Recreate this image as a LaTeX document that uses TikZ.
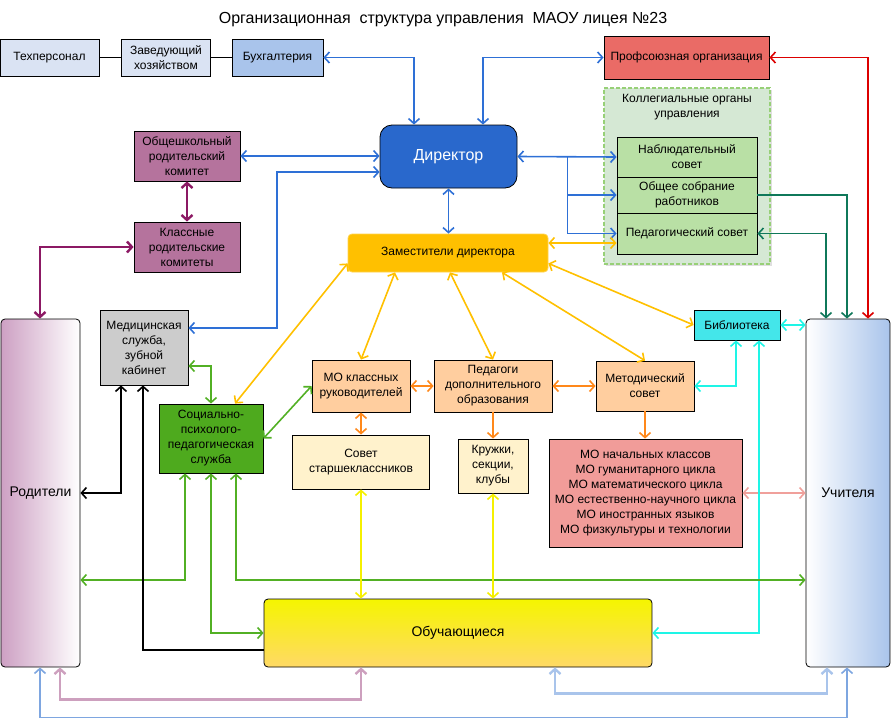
\documentclass[tikz,border=0pt]{standalone}
\usepackage{fontspec}
\setmainfont{Liberation Sans}
\usetikzlibrary{arrows.meta,shadows}

\definecolor{lblue}{RGB}{46,112,214}
\definecolor{dpurp}{RGB}{140,25,100}
\definecolor{gold}{RGB}{255,192,0}
\definecolor{lgreen}{RGB}{82,176,36}
\definecolor{orng}{RGB}{255,136,26}
\definecolor{cyn}{RGB}{30,245,230}
\definecolor{pinkl}{RGB}{240,160,155}
\definecolor{yel}{RGB}{245,240,0}
\definecolor{mauve}{RGB}{205,160,190}
\definecolor{sky}{RGB}{169,196,235}
\definecolor{midblue}{RGB}{126,166,224}
\definecolor{tealg}{RGB}{15,120,90}
\definecolor{redl}{RGB}{220,0,0}

\definecolor{techfill}{RGB}{218,227,243}
\definecolor{proffill}{RGB}{234,107,102}
\definecolor{kollfill}{RGB}{213,232,212}
\definecolor{kolldraw}{RGB}{151,208,119}
\definecolor{councilfill}{RGB}{185,224,165}
\definecolor{dirfill}{RGB}{41,104,204}
\definecolor{parfill}{RGB}{181,115,157}
\definecolor{medfill}{RGB}{204,204,204}
\definecolor{spfill}{RGB}{78,170,30}
\definecolor{peach}{RGB}{255,206,159}
\definecolor{cream}{RGB}{255,242,204}
\definecolor{mofill}{RGB}{241,156,153}
\definecolor{bibfill}{RGB}{68,230,234}
\definecolor{rodfill}{RGB}{205,160,195}
\definecolor{obutop}{RGB}{245,245,0}
\definecolor{obubot}{RGB}{255,217,102}

\begin{document}
\begin{tikzpicture}[x=1pt,y=-1pt,
    >={Straight Barb[length=5pt,width=11pt]},
    box/.style={draw=black, line width=0.8pt, align=center, inner sep=1pt,
        font=\fontsize{12}{15}\selectfont},
    big/.style={box, rounded corners=4pt, font=\fontsize{14}{17}\selectfont},
    con/.style={line width=1.6pt},
    thickcon/.style={line width=2.4pt}]
    \useasboundingbox (0,0) rectangle (891,720);

    % Title
    \node[font=\fontsize{16}{19}\selectfont] (title) at (443,20)
        {Организационная\ \ структура управления\ \ МАОУ лицея №23};

    % Top row
    \node[box, fill=techfill, minimum width=99, minimum height=37] (tech) at (49.5,57.5) {Техперсонал};
    \node[box, fill=techfill, minimum width=89, minimum height=37] (zav) at (166,57.5) {Заведующий\\хозяйством};
    \node[box, fill=sky, minimum width=91, minimum height=37] (buh) at (277.5,57.5) {Бухгалтерия};
    \node[box, fill=proffill, minimum width=165, minimum height=43] (prof) at (686.5,57.5) {Профсоюзная организация};

    % Collegial bodies
    \node[draw=kolldraw, dash pattern=on 4pt off 2pt, line width=1.2pt, fill=kollfill, minimum width=166, minimum height=176,
        drop shadow={opacity=0.25, shadow xshift=2pt, shadow yshift=-2pt}] (koll) at (687,176) {};
    \node[box, draw=none] (kolltitle) at (687,107.5) {Коллегиальные органы\\управления};
    \node[box, fill=councilfill, minimum width=140, minimum height=40] (nab) at (687,157) {Наблюдательный\\совет};
    \node[box, fill=councilfill, minimum width=140, minimum height=36] (obsh) at (687,195) {Общее собрание\\работников};
    \node[box, fill=councilfill, minimum width=140, minimum height=41] (ped) at (687,233.5) {Педагогический совет};

    % Director and deputies
    \node[box, fill=dirfill, rounded corners=12pt, minimum width=137, minimum height=63,
        text=white, font=\fontsize{16}{19}\selectfont] (dir) at (448.5,156.5) {Директор};
    \node[box, draw=gold!70!white, fill=gold, rounded corners=4pt, minimum width=200, minimum height=38] (zam) at (448,253) {Заместители директора};

    % Parents' committees
    \node[box, fill=parfill, minimum width=106, minimum height=50] (oshk) at (187,156) {Общешкольный\\родительский\\комитет};
    \node[box, fill=parfill, minimum width=106, minimum height=50] (klass) at (187,247) {Классные\\родительские\\комитеты};

    % Services
    \node[box, fill=medfill, minimum width=88, minimum height=75] (med) at (144,347.5) {Медицинская\\служба,\\зубной\\кабинет};
    \node[box, fill=spfill, minimum width=104, minimum height=69] (spps) at (211,438.5) {Социально-\\психолого-\\педагогическая\\служба};

    % Methodical units
    \node[box, fill=peach, minimum width=98, minimum height=52] (mokl) at (361,386) {МО классных\\руководителей};
    \node[box, fill=peach, minimum width=118, minimum height=52] (pdo) at (493,386) {Педагоги\\дополнительного\\образования};
    \node[box, fill=peach, minimum width=98, minimum height=50] (met) at (645,386) {Методический\\совет};
    \node[box, fill=cream, minimum width=137, minimum height=54] (sovet) at (361,462) {Совет\\старшеклассников};
    \node[box, fill=cream, minimum width=70, minimum height=54] (kruzh) at (493,466) {Кружки,\\секции,\\клубы};
    \node[box, fill=mofill, minimum width=193, minimum height=108] (mo) at (645.5,493)
        {МО начальных классов\\МО гуманитарного цикла\\МО математического цикла\\МО естественно-научного цикла\\МО иностранных языков\\МО физкультуры и технологии};
    \node[box, fill=bibfill, minimum width=86, minimum height=30] (bib) at (737,325) {Библиотека};

    % Participants
    \node[big, left color=rodfill, right color=white, minimum width=79, minimum height=348] (rod) at (40.5,493) {Родители};
    \node[big, left color=white, right color=sky, minimum width=84, minimum height=348] (uch) at (848,493) {Учителя};
    \node[big, top color=obutop, bottom color=obubot, minimum width=388, minimum height=68] (obu) at (458,633) {Обучающиеся};

    % Top row links
    \draw[con] (tech) -- (zav);
    \draw[con] (zav) -- (buh);
    \draw[con, lblue, <->] (buh.east) -| ([xshift=-34.5]dir.north);
    \draw[con, lblue, <->] ([xshift=34.5]dir.north) |- (prof.west);
    \draw[con, redl, <->] (prof.east) -| ([xshift=20]uch.north);

    % Director links
    \draw[con, lblue, <->] (dir.east) -- (nab.west);
    \draw[con, lblue, ->] ([xshift=50]dir.east) |- (obsh.west);
    \draw[con, lblue, ->] ([xshift=50]dir.east) |- (ped.west);
    \draw[con, lblue, <->] (dir.south) -- (dir.south |- zam.north);
    \draw[con, lblue, <->] (oshk.east) -- (dir.west |- oshk.east);
    \draw[con, lblue, <->] ([yshift=-15.5]dir.west) -| (277,328) -- ([yshift=19.5]med.east);

    % Parents
    \draw[thickcon, dpurp, <->] (oshk.south) -- (klass.north);
    \draw[thickcon, dpurp, <->] ([xshift=-0.5]rod.north) |- (klass.west);

    % Deputies
    \draw[con, gold, <->] ([yshift=10]zam.east) -- ([yshift=-9.5]ped.west);
    \draw[con, gold, <->] ([yshift=9]zam.south west) -- ([xshift=24]spps.north);
    \draw[con, gold, <->] ([xshift=-53]zam.south) -- (mokl.north);
    \draw[con, gold, <->] ([xshift=2]zam.south) -- (pdo.north);
    \draw[con, gold, <->] ([xshift=54]zam.south) -- (met.north);
    \draw[con, gold, <->] ([yshift=9]zam.south east) -- (bib.west);

    % Methodical links
    \draw[con, orng, <->] (mokl.east) -- (pdo.west);
    \draw[con, orng, <->] (pdo.east) -- (met.west);
    \draw[con, orng, <->] (mokl.south) -- (sovet.north);
    \draw[con, orng, ->] (pdo.south) -- (kruzh.north);
    \draw[con, orng, ->] (met.south) -- (met.south |- mo.north);
    \draw[con, pinkl, <->] (mo.east) -- (uch.west);

    % Library
    \draw[con, cyn, <->] (bib.east) -- (bib.east -| uch.west);
    \draw[con, cyn, <->] ([xshift=-1]bib.south) |- (met.east);
    \draw[con, cyn, <->] ([xshift=22]bib.south) |- (obu.east);

    % Services links
    \draw[con, lgreen, <->] ([yshift=-18.5]med.east) -| (spps.north);
    \draw[con, lgreen, <->] (spps.east) -- (mokl.west);
    \draw[con, lgreen, <->] ([xshift=-26]spps.south) |- ([yshift=-87]rod.east);
    \draw[con, lgreen, <->] (spps.south) |- (obu.west);
    \draw[con, lgreen, <->] ([xshift=25]spps.south) |- ([yshift=-87]uch.west);
    \draw[con, black, <->] ([xshift=-23]med.south) |- (rod.east);
    \draw[con, black, ->] ([yshift=-17]obu.west) -| ([xshift=-1]med.south);

    % Students
    \draw[con, yel, <->] (sovet.south) -- (sovet.south |- obu.north);
    \draw[con, yel, <->] (kruzh.south) -- (kruzh.south |- obu.north);

    % Councils to teachers
    \draw[con, tealg, ->] (obsh.east) -| ([xshift=-1]uch.north);
    \draw[con, tealg, <->] ([xshift=-22]uch.north) |- (ped.east);

    % Bottom links
    \draw[thickcon, mauve, <->] ([xshift=19.5]rod.south) -- ++(0,32) -| ([xshift=-97]obu.south);
    \draw[thickcon, sky, <->] ([xshift=97]obu.south) -- ++(0,26) -| ([xshift=-21]uch.south);
    \draw[con, midblue, <->] ([xshift=-0.5]rod.south) -- ++(0,50) -| ([xshift=-1]uch.south);
\end{tikzpicture}
\end{document}
